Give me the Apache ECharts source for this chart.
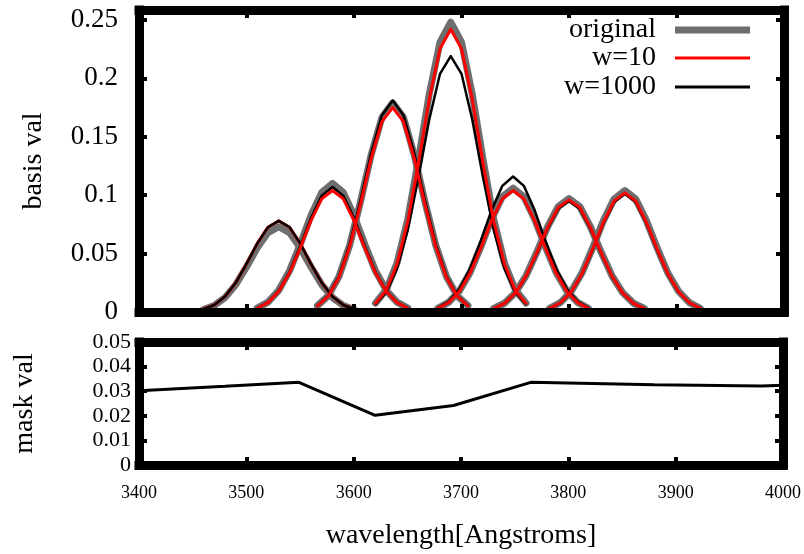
<!DOCTYPE html>
<html>
<head>
<meta charset="utf-8">
<script src="https://cdn.jsdelivr.net/npm/echarts@6/dist/echarts.min.js"></script>
<style>
  html, body { margin: 0; padding: 0; background: #fff; }
  #main { width: 804px; height: 554px; }
</style>
</head>
<body>
<div id="main"></div>
<script>
// wavelength samples of each basis function
var wl1 = [3460, 3470, 3480, 3490, 3500, 3510, 3520, 3530, 3540, 3550, 3560, 3570, 3580, 3590, 3600];
var wl2 = [3510, 3520, 3530, 3540, 3550, 3560, 3570, 3580, 3590, 3600, 3610, 3620, 3630, 3640, 3650];
var wl3 = [3566, 3576, 3586, 3596, 3606, 3616, 3626, 3636, 3646, 3656, 3666, 3676, 3686, 3696, 3706];
var wl4 = [3620, 3630, 3640, 3650, 3660, 3670, 3680, 3690, 3700, 3710, 3720, 3730, 3740, 3750, 3760];
var wl5 = [3678, 3688, 3698, 3708, 3718, 3728, 3738, 3748, 3758, 3768, 3778, 3788, 3798, 3808, 3818];
var wl6 = [3730, 3740, 3750, 3760, 3770, 3780, 3790, 3800, 3810, 3820, 3830, 3840, 3850, 3860, 3870];
var wl7 = [3782, 3792, 3802, 3812, 3822, 3832, 3842, 3852, 3862, 3872, 3882, 3892, 3902, 3912, 3922];

// original basis
var orig1 = [0.0022, 0.0056, 0.0123, 0.0234, 0.0385, 0.0549, 0.0680, 0.0730, 0.0680, 0.0549, 0.0385, 0.0234, 0.0123, 0.0056, 0.0022];
var orig2 = [0.0034, 0.0085, 0.0186, 0.0352, 0.0580, 0.0827, 0.1024, 0.1100, 0.1024, 0.0827, 0.0580, 0.0352, 0.0186, 0.0085, 0.0034];
var orig3 = [0.0055, 0.0138, 0.0303, 0.0573, 0.0943, 0.1346, 0.1666, 0.1790, 0.1666, 0.1346, 0.0943, 0.0573, 0.0303, 0.0138, 0.0055];
var orig4 = [0.0076, 0.0191, 0.0419, 0.0794, 0.1307, 0.1865, 0.2309, 0.2480, 0.2309, 0.1865, 0.1307, 0.0794, 0.0419, 0.0191, 0.0076];
var orig5 = [0.0032, 0.0082, 0.0179, 0.0339, 0.0559, 0.0797, 0.0987, 0.1060, 0.0987, 0.0797, 0.0559, 0.0339, 0.0179, 0.0082, 0.0032];
var orig6 = [0.0030, 0.0075, 0.0164, 0.0310, 0.0511, 0.0729, 0.0903, 0.0970, 0.0903, 0.0729, 0.0511, 0.0310, 0.0164, 0.0075, 0.0030];
var orig7 = [0.0032, 0.0080, 0.0176, 0.0333, 0.0548, 0.0782, 0.0968, 0.1040, 0.0968, 0.0782, 0.0548, 0.0333, 0.0176, 0.0080, 0.0032];

// w=10
var w10_1 = [0.0024, 0.0060, 0.0132, 0.0250, 0.0411, 0.0587, 0.0726, 0.0780, 0.0726, 0.0587, 0.0411, 0.0250, 0.0132, 0.0060, 0.0024];
var w10_2 = [0.0032, 0.0080, 0.0176, 0.0333, 0.0548, 0.0782, 0.0968, 0.1040, 0.0968, 0.0782, 0.0548, 0.0333, 0.0176, 0.0080, 0.0032];
var w10_3 = [0.0053, 0.0135, 0.0296, 0.0560, 0.0922, 0.1316, 0.1629, 0.1750, 0.1629, 0.1316, 0.0922, 0.0560, 0.0296, 0.0135, 0.0053];
var w10_4 = [0.0074, 0.0186, 0.0409, 0.0774, 0.1275, 0.1820, 0.2253, 0.2420, 0.2253, 0.1820, 0.1275, 0.0774, 0.0409, 0.0186, 0.0074];
var w10_5 = [0.0032, 0.0080, 0.0176, 0.0333, 0.0548, 0.0782, 0.0968, 0.1040, 0.0968, 0.0782, 0.0548, 0.0333, 0.0176, 0.0080, 0.0032];
var w10_6 = [0.0029, 0.0074, 0.0162, 0.0307, 0.0506, 0.0722, 0.0894, 0.0960, 0.0894, 0.0722, 0.0506, 0.0307, 0.0162, 0.0074, 0.0029];
var w10_7 = [0.0031, 0.0079, 0.0172, 0.0326, 0.0538, 0.0767, 0.0950, 0.1020, 0.0950, 0.0767, 0.0538, 0.0326, 0.0172, 0.0079, 0.0031];

// w=1000
var w1000_1 = [0.0024, 0.0060, 0.0132, 0.0250, 0.0411, 0.0587, 0.0726, 0.0780, 0.0726, 0.0587, 0.0411, 0.0250, 0.0132, 0.0060, 0.0024];
var w1000_2 = [0.0033, 0.0082, 0.0181, 0.0342, 0.0564, 0.0805, 0.0996, 0.1070, 0.0996, 0.0805, 0.0564, 0.0342, 0.0181, 0.0082, 0.0033];
var w1000_3 = [0.0055, 0.0139, 0.0306, 0.0579, 0.0954, 0.1361, 0.1685, 0.1810, 0.1685, 0.1361, 0.0954, 0.0579, 0.0306, 0.0139, 0.0055];
var w1000_4 = [0.0067, 0.0169, 0.0370, 0.0701, 0.1154, 0.1647, 0.2039, 0.2190, 0.2039, 0.1647, 0.1154, 0.0701, 0.0370, 0.0169, 0.0067];
var w1000_5 = [0.0035, 0.0089, 0.0196, 0.0371, 0.0611, 0.0872, 0.1080, 0.1160, 0.1080, 0.0872, 0.0611, 0.0371, 0.0196, 0.0089, 0.0035];
var w1000_6 = [0.0029, 0.0073, 0.0161, 0.0304, 0.0501, 0.0714, 0.0884, 0.0950, 0.0884, 0.0714, 0.0501, 0.0304, 0.0161, 0.0073, 0.0029];
var w1000_7 = [0.0031, 0.0078, 0.0171, 0.0323, 0.0532, 0.0760, 0.0940, 0.1010, 0.0940, 0.0760, 0.0532, 0.0323, 0.0171, 0.0078, 0.0031];

// mask
var maskWl = [3400, 3480, 3549, 3620, 3693, 3765, 3880, 3980, 4000];
var maskVal = [0.0302, 0.0320, 0.0336, 0.0202, 0.0242, 0.0336, 0.0326, 0.0321, 0.0324];

var wls = [wl1, wl2, wl3, wl4, wl5, wl6, wl7];
var origs = [orig1, orig2, orig3, orig4, orig5, orig6, orig7];
var w10s = [w10_1, w10_2, w10_3, w10_4, w10_5, w10_6, w10_7];
var w1000s = [w1000_1, w1000_2, w1000_3, w1000_4, w1000_5, w1000_6, w1000_7];

var FONT = 'Liberation Serif';

function pairs(xs, ys) {
    return xs.map(function (x, i) { return [x, ys[i]]; });
}

function curve(name, xs, ys, color, width, z) {
    return {
        name: name,
        type: 'line',
        xAxisIndex: 0,
        yAxisIndex: 0,
        data: pairs(xs, ys),
        symbol: 'none',
        showSymbol: false,
        animation: false,
        z: z,
        lineStyle: { color: color, width: width, cap: 'round', join: 'round' },
        itemStyle: { color: color }
    };
}

var series = [];
for (var i = 0; i < 7; i++) {
    series.push(curve('original', wls[i], origs[i], '#6e6e6e', 7, 2));
    series.push(curve('w=10', wls[i], w10s[i], '#ff0000', 3, i === 0 ? 3 : 4));
    series.push(curve('w=1000', wls[i], w1000s[i], '#000000', 2.5, i === 0 ? 4 : 3));
}
series.push({
    name: 'mask',
    type: 'line',
    xAxisIndex: 2,
    yAxisIndex: 2,
    data: pairs(maskWl, maskVal),
    symbol: 'none',
    showSymbol: false,
    animation: false,
    lineStyle: { color: '#000', width: 3 }
});

var frameLine = { show: true, onZero: false, lineStyle: { color: '#000', width: 9, cap: 'square' } };
var tickIn = { show: true, inside: true, length: 8, lineStyle: { color: '#000', width: 4 } };

function xAx(grid, pos, labels) {
    return {
        type: 'value', gridIndex: grid, position: pos, min: 3400, max: 4000, interval: 100,
        z: 10,
        axisLine: frameLine, axisTick: tickIn, splitLine: { show: false },
        axisLabel: labels ? {
            show: true, color: '#000', fontFamily: FONT, fontSize: 18, margin: 19,
            formatter: function (v) { return String(v); }
        } : { show: false }
    };
}

function yAx(grid, pos, max, interval, labelOpt) {
    return {
        type: 'value', gridIndex: grid, position: pos, min: 0, max: max, interval: interval,
        z: 10,
        axisLine: frameLine, axisTick: tickIn, splitLine: { show: false },
        axisLabel: labelOpt || { show: false }
    };
}

var chart = echarts.init(document.getElementById('main'), null, { renderer: 'canvas' });

var xAxes = [xAx(0, 'bottom', false), xAx(0, 'top', false), xAx(1, 'bottom', true), xAx(1, 'top', false)];
xAxes[2].name = 'wavelength[Angstroms]';
xAxes[2].nameLocation = 'middle';
xAxes[2].nameGap = 57;
xAxes[2].nameTextStyle = { color: '#000', fontFamily: FONT, fontSize: 28 };

var yAxes = [
    yAx(0, 'left', 0.2585, 0.05, {
        show: true, color: '#000', fontFamily: FONT, fontSize: 27, margin: 21, showMaxLabel: false,
        formatter: function (v) { return v > 0.251 ? '' : String(+v.toFixed(2)); }
    }),
    yAx(0, 'right', 0.2585, 0.05),
    yAx(1, 'left', 0.05, 0.01, {
        show: true, color: '#000', fontFamily: FONT, fontSize: 22, margin: 8,
        formatter: function (v) { return String(+v.toFixed(2)); }
    }),
    yAx(1, 'right', 0.05, 0.01)
];
yAxes[0].name = 'basis val';
yAxes[0].nameLocation = 'middle';
yAxes[0].nameGap = 91;
yAxes[0].nameTextStyle = { color: '#000', fontFamily: FONT, fontSize: 28 };
yAxes[2].name = 'mask val';
yAxes[2].nameLocation = 'middle';
yAxes[2].nameGap = 100;
yAxes[2].nameTextStyle = { color: '#000', fontFamily: FONT, fontSize: 28 };

function legendFor(name, top, thick) {
    return {
        data: [name],
        orient: 'vertical',
        right: 54,
        top: top,
        padding: 0,
        align: 'right',
        icon: 'rect',
        itemWidth: 75,
        itemHeight: thick,
        selectedMode: false,
        formatter: function (n) { return n + '  '; },
        textStyle: { color: '#000', fontFamily: FONT, fontSize: 28 }
    };
}

var option = {
    backgroundColor: '#fff',
    animation: false,
    grid: [
        { left: 139, right: 20, top: 10, height: 302 },
        { left: 139, right: 20, top: 342, height: 123 }
    ],
    legend: [legendFor('original', 16, 7), legendFor('w=10', 44, 3), legendFor('w=1000', 73, 3)],
    xAxis: xAxes,
    yAxis: yAxes,
    series: series
};

chart.setOption(option);
window.addEventListener('resize', function () {
    chart.resize();
});
</script>
</body>
</html>
